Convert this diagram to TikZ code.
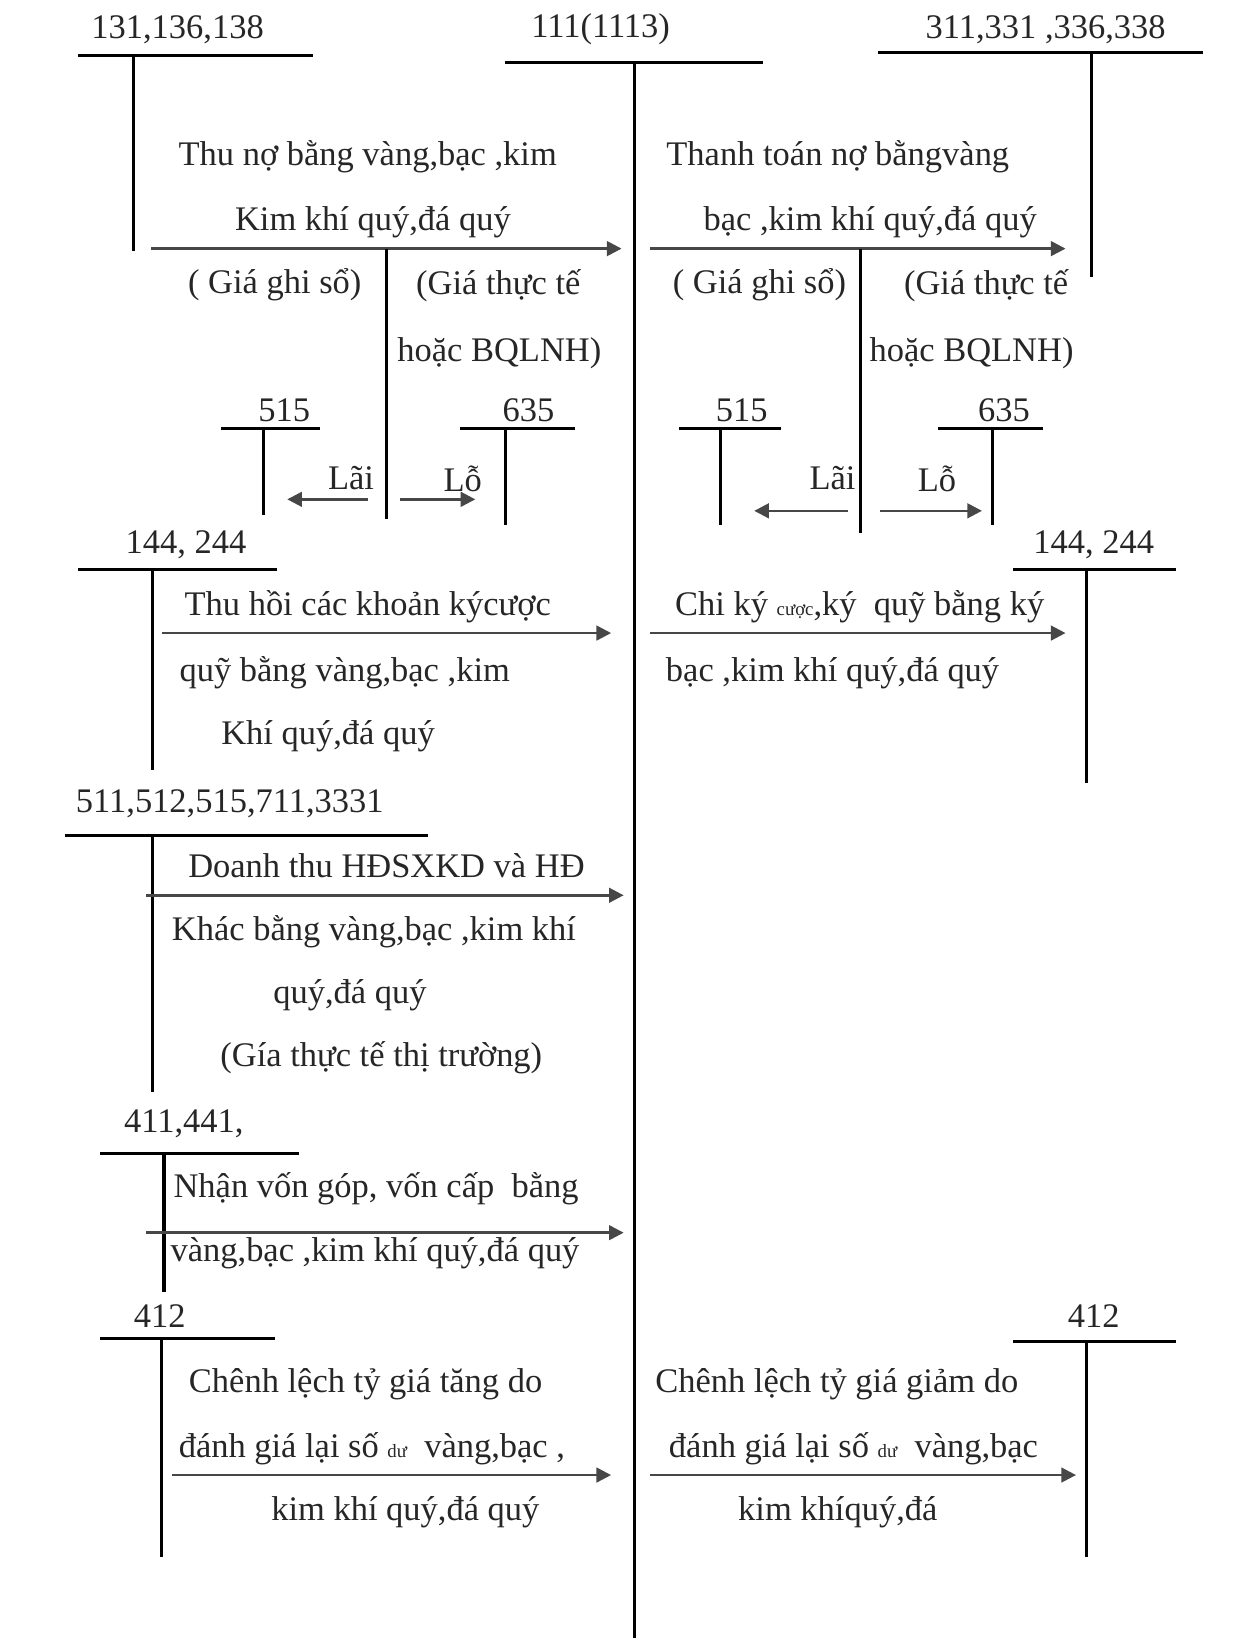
\documentclass[tikz,border=0pt]{standalone}
\usepackage{fontspec}
\setmainfont{Liberation Serif}
\usetikzlibrary{arrows.meta}
\newcommand{\sm}[1]{{\fontsize{9}{10}\selectfont #1}}
\begin{document}
\begin{tikzpicture}[x=0.5pt,y=-0.5pt,
  tline/.style={line width=1.5pt,black},
  flow/.style={line width=1.2pt,black!72,-{Triangle[length=7pt,width=7pt]}},
  lbl/.style={inner sep=0pt,yshift=-1.5pt,font=\fontsize{16.5}{20}\selectfont,text=black!85}]
\useasboundingbox (0,0) rectangle (1196,1568);

% ---- T-accounts: title, bar, stem ----
% 131,136,138
\node[lbl] (t131) at (170,25) {131,136,138};
\draw[tline] (75,53) -- (300,53);
\draw[tline] (128,53) -- (128,240);
% 111(1113) main account
\node[lbl] (t111) at (575,25) {111(1113)};
\draw[tline] (483,60) -- (730,60);
\coordinate (m111top) at (607,60);
\coordinate (m111bot) at (607,1568);
\draw[tline] (m111top) -- (m111bot);
% 311,331,336,338
\node[lbl] (t311) at (1001,25) {311,331 ,336,338};
\draw[tline] (840,50) -- (1152,50);
\draw[tline] (1045,50) -- (1045,265);

% ---- Debt collection (left) ----
\coordinate (a1s) at (145,238);
\coordinate (a1e) at (595,238);
\draw[flow] (a1s) -- (a1e);
\node[lbl] (a1t1) at (352,147) {Thu nợ bằng vàng,bạc ,kim};
\node[lbl] (a1t2) at (357,210) {Kim khí quý,đá quý};
\node[lbl] (a1b1) at (263,270) {( Giá ghi sổ)};
\node[lbl] (a1b2) at (477,270) {(Giá thực tế};
\node[lbl] (a1b3) at (478,335) {hoặc BQLNH)};
\coordinate (s1top) at (370,238);
\coordinate (s1bot) at (370,497);
\draw[tline] (s1top) -- (s1bot);
% 515 / 635 left
\node[lbl] (l515) at (272,390) {515};
\draw[tline] (212,410) -- (306,410);
\draw[tline] (252,410) -- (252,493);
\node[lbl] (l635) at (506,390) {635};
\draw[tline] (440,410) -- (550,410);
\draw[tline] (484,410) -- (484,503);
\node[lbl] (llai) at (336,455) {Lãi};
\node[lbl] (llo) at (443,455) {Lỗ};
\coordinate (llaiS) at (352,478);
\coordinate (llaiE) at (275,478);
\coordinate (lloS) at (383,478);
\coordinate (lloE) at (455,478);
\draw[flow] (llaiS) -- (llaiE);
\draw[flow] (lloS) -- (lloE);

% ---- Debt payment (right) ----
\coordinate (a2s) at (622,238);
\coordinate (a2e) at (1020,238);
\draw[flow] (a2s) -- (a2e);
\node[lbl] (a2t1) at (802,147) {Thanh toán nợ bằngvàng};
\node[lbl] (a2t2) at (833,210) {bạc ,kim khí quý,đá quý};
\node[lbl] (a2b1) at (727,270) {( Giá ghi sổ)};
\node[lbl] (a2b2) at (944,270) {(Giá thực tế};
\node[lbl] (a2b3) at (930,335) {hoặc BQLNH)};
\coordinate (s2top) at (824,238);
\coordinate (s2bot) at (824,510);
\draw[tline] (s2top) -- (s2bot);
% 515 / 635 right
\node[lbl] (r515) at (710,390) {515};
\draw[tline] (650,410) -- (748,410);
\draw[tline] (690,410) -- (690,503);
\node[lbl] (r635) at (961,390) {635};
\draw[tline] (898,410) -- (998,410);
\draw[tline] (950,410) -- (950,503);
\node[lbl] (rlai) at (797,455) {Lãi};
\node[lbl] (rlo) at (897,455) {Lỗ};
\coordinate (rlaiS) at (812,489);
\coordinate (rlaiE) at (722,489);
\coordinate (rloS) at (842,489);
\coordinate (rloE) at (940,489);
\draw[flow] (rlaiS) -- (rlaiE);
\draw[flow] (rloS) -- (rloE);

% ---- Deposits 144, 244 ----
\node[lbl] (l144) at (178,518) {144, 244};
\draw[tline] (75,545) -- (265,545);
\draw[tline] (146,545) -- (146,737);
\coordinate (a3s) at (155,606);
\coordinate (a3e) at (585,606);
\draw[flow] (a3s) -- (a3e);
\node[lbl] (a3t1) at (352,578) {Thu hồi các khoản kýcược};
\node[lbl] (a3t2) at (330,641) {quỹ bằng vàng,bạc ,kim};
\node[lbl] (a3t3) at (314,702) {Khí quý,đá quý};

\node[lbl] (r144) at (1047,518) {144, 244};
\draw[tline] (970,545) -- (1126,545);
\draw[tline] (1040,545) -- (1040,750);
\coordinate (a4s) at (622,606);
\coordinate (a4e) at (1020,606);
\draw[flow] (a4s) -- (a4e);
\node[lbl] (a4t1) at (823,578) {Chi ký \sm{cược},ký\ \ quỹ bằng ký};
\node[lbl] (a4t2) at (797,641) {bạc ,kim khí quý,đá quý};

% ---- Revenue ----
\node[lbl] (t511) at (220,766) {511,512,515,711,3331};
\draw[tline] (62,800) -- (410,800);
\draw[tline] (146,800) -- (146,1045);
\coordinate (a5s) at (140,857);
\coordinate (a5e) at (597,857);
\draw[flow] (a5s) -- (a5e);
\node[lbl] (a5t1) at (370,826) {Doanh thu HĐSXKD và HĐ};
\node[lbl] (a5t2) at (358,889) {Khác bằng vàng,bạc ,kim khí};
\node[lbl] (a5t3) at (335,950) {quý,đá quý};
\node[lbl] (a5t4) at (365,1010) {(Gía thực tế thị trường)};

% ---- Capital ----
\node[lbl] (t411) at (176,1073) {411,441,};
\draw[tline] (96,1104) -- (286,1104);
\draw[tline] (157,1104) -- (157,1237);
\coordinate (a6s) at (140,1180);
\coordinate (a6e) at (597,1180);
\draw[flow] (a6s) -- (a6e);
\node[lbl] (a6t1) at (360,1135) {Nhận vốn góp, vốn cấp\ \ bằng};
\node[lbl] (a6t2) at (359,1197) {vàng,bạc ,kim khí quý,đá quý};

% ---- Exchange differences 412 ----
\node[lbl] (l412) at (153,1257) {412};
\draw[tline] (96,1281) -- (263,1281);
\draw[tline] (155,1281) -- (155,1490);
\coordinate (a7s) at (165,1412);
\coordinate (a7e) at (585,1412);
\draw[flow] (a7s) -- (a7e);
\node[lbl] (a7t1) at (350,1322) {Chênh lệch tỷ giá tăng do};
\node[lbl] (a7t2) at (356,1384) {đánh giá lại số \sm{dư}\ \ vàng,bạc ,};
\node[lbl] (a7t3) at (388,1445) {kim khí quý,đá quý};

\node[lbl] (r412) at (1047,1257) {412};
\draw[tline] (970,1284) -- (1126,1284);
\draw[tline] (1040,1284) -- (1040,1490);
\coordinate (a8s) at (622,1412);
\coordinate (a8e) at (1030,1412);
\draw[flow] (a8s) -- (a8e);
\node[lbl] (a8t1) at (801,1322) {Chênh lệch tỷ giá giảm do};
\node[lbl] (a8t2) at (817,1384) {đánh giá lại số \sm{dư}\ \ vàng,bạc};
\node[lbl] (a8t3) at (802,1445) {kim khíquý,đá};
\end{tikzpicture}
\end{document}
